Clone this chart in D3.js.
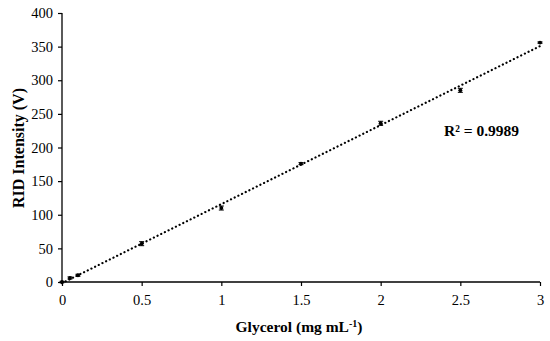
<!DOCTYPE html>
<html lang="en">
<head>
<meta charset="utf-8">
<title>Glycerol calibration</title>
<script src="https://d3js.org/d3.v7.min.js"></script>
<style>
  body { margin: 0; background: #fff; }
  text { font-family: "Liberation Serif", "DejaVu Serif", serif; fill: #000; }
</style>
</head>
<body>
<script>
// data
var conc = [0, 0.05, 0.1, 0.5, 1, 1.5, 2, 2.5, 3];
var intensity = [0, 6, 10, 57, 110, 176, 236, 285, 356];
var errs = [1, 1.5, 1.5, 3, 3, 1.5, 3, 3, 1];
var xTicks = [0, 0.5, 1, 1.5, 2, 2.5, 3];
var yTicks = [0, 50, 100, 150, 200, 250, 300, 350, 400];

var w = 550, h = 341;
var margin = {left: 62, right: 10, top: 13, bottom: 59};

var svg = d3.select("body").append("svg")
  .attr("width", w)
  .attr("height", h);

var x = d3.scaleLinear().domain([0, 3]).range([margin.left, 540]);
var y = d3.scaleLinear().domain([0, 400]).range([282, margin.top]);

// axes
var xAxis = svg.append("g")
  .attr("transform", "translate(0," + y(0) + ")")
  .call(d3.axisBottom(x).tickValues(xTicks).tickSize(4).tickPadding(9)
        .tickFormat(function(d) { return d; }));
var yAxis = svg.append("g")
  .attr("transform", "translate(" + x(0) + ",0)")
  .call(d3.axisLeft(y).tickValues(yTicks).tickSize(4).tickPadding(5));

[xAxis, yAxis].forEach(function(a) {
  a.select(".domain").attr("stroke", "#000").attr("stroke-width", 1.3);
  a.selectAll(".tick line").attr("stroke", "#000").attr("stroke-width", 1.2);
  a.selectAll(".tick text").attr("font-size", "14.5px")
    .attr("font-family", "'Liberation Serif', serif").attr("fill", "#000");
});
xAxis.select(".domain").attr("d", "M" + x(0) + ",0H" + x(3));
yAxis.select(".domain").attr("d", "M0," + y(0) + "V" + y(400));

// linear trendline (least squares)
var mx = d3.mean(conc), my = d3.mean(intensity);
var sxy = d3.sum(conc, function(d, i) { return (d - mx) * (intensity[i] - my); });
var sxx = d3.sum(conc, function(d) { return (d - mx) * (d - mx); });
var slope = sxy / sxx, intercept = my - slope * mx;

svg.append("line")
  .attr("x1", x(0)).attr("y1", y(intercept))
  .attr("x2", x(3)).attr("y2", y(intercept + slope * 3))
  .attr("stroke", "#000")
  .attr("stroke-width", 2.2)
  .attr("stroke-dasharray", "0.1 4")
  .attr("stroke-linecap", "round");

// error bars
var pts = conc.map(function(c, i) { return {x: c, y: intensity[i], e: errs[i]}; });
var eb = svg.selectAll("g.err").data(pts).enter().append("g").attr("class", "err");
eb.append("line")
  .attr("x1", function(d) { return x(d.x); })
  .attr("x2", function(d) { return x(d.x); })
  .attr("y1", function(d) { return y(d.y - d.e); })
  .attr("y2", function(d) { return y(d.y + d.e); })
  .attr("stroke", "#000").attr("stroke-width", 1);
eb.selectAll("line.cap")
  .data(function(d) { return [d.y - d.e, d.y + d.e].map(function(v) { return {x: d.x, v: v}; }); })
  .enter().append("line").attr("class", "cap")
  .attr("x1", function(d) { return x(d.x) - 2.5; })
  .attr("x2", function(d) { return x(d.x) + 2.5; })
  .attr("y1", function(d) { return y(d.v); })
  .attr("y2", function(d) { return y(d.v); })
  .attr("stroke", "#000").attr("stroke-width", 1);

// markers
svg.selectAll("path.pt")
  .data(pts)
  .enter()
  .append("path")
  .attr("class", "pt")
  .attr("d", d3.symbol().type(d3.symbolCircle).size(12))
  .attr("transform", function(d) { return "translate(" + x(d.x) + "," + y(d.y) + ")"; })
  .attr("fill", "#000");

// axis titles
svg.append("text")
  .attr("x", 299).attr("y", 332)
  .attr("text-anchor", "middle")
  .attr("font-size", "15.5px").attr("font-weight", "bold")
  .html("Glycerol (mg mL<tspan dy='-5' font-size='10px'>-1</tspan><tspan dy='5'>)</tspan>");

svg.append("text")
  .attr("transform", "translate(24,148) rotate(-90)")
  .attr("text-anchor", "middle")
  .attr("font-size", "16px").attr("font-weight", "bold")
  .text("RID Intensity (V)");

svg.append("text")
  .attr("x", 444).attr("y", 136)
  .attr("font-size", "15.5px").attr("font-weight", "bold")
  .text("R\u00b2 = 0.9989");
</script>
</body>
</html>
